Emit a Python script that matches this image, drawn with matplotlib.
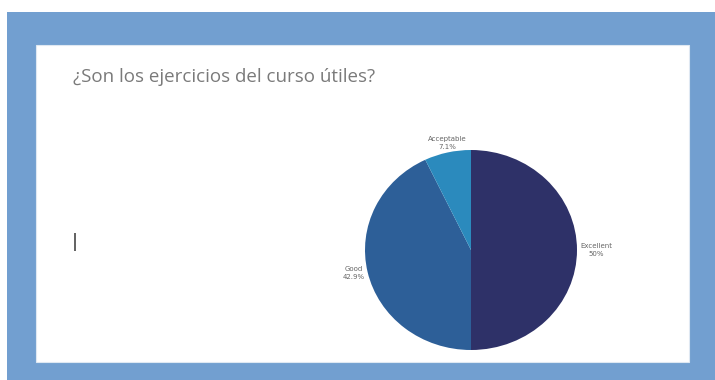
import matplotlib.pyplot as plt
from matplotlib.patches import Rectangle

# Data
categorias = ["Excellent", "Good", "Acceptable"]
porcentaje = [50.0, 42.9, 7.1]
warna = ["#2e3168", "#2d5f98", "#2b8abd"]
judul = "¿Son los ejercicios del curso útiles?"

W, H = 715, 380
fig = plt.figure(figsize=(W / 100, H / 100), dpi=100)

# Bingkai biru dan panel putih
fig.patches.append(Rectangle((7 / W, 0), 1, (H - 12) / H, transform=fig.transFigure,
                             facecolor="#729fd0", edgecolor="none", zorder=0))
fig.patches.append(Rectangle((36 / W, (H - 362) / H), (689 - 36) / W, (362 - 45) / H,
                             transform=fig.transFigure, facecolor="white",
                             edgecolor="#dfe8f2", linewidth=0.8, zorder=1))

fig.text(73 / W, (H - 77) / H, judul, fontsize=13.5, color="#7a7a7a",
         family="Open Sans", va="center", ha="left")
fig.text(72 / W, (H - 242) / H, "|", fontsize=13, color="#333333", va="center")

# Pie
cx, cy, rx, ry = 471, 250, 106, 100
ax = fig.add_axes([(cx - rx) / W, (H - cy - ry) / H, 2 * rx / W, 2 * ry / H])
ax.set_zorder(5)
label_teks = [f"{c}\n{p:g}%" for c, p in zip(categorias, porcentaje)]
wedges, texts = ax.pie(porcentaje, labels=label_teks, colors=warna, startangle=90,
                       counterclock=False, labeldistance=1.03,
                       textprops=dict(fontsize=5, color="#666666", linespacing=1.3))
ax.set_aspect("auto")
ax.set_xlim(-1, 1)
ax.set_ylim(-1, 1)

for t in texts:
    x, y = t.get_position()
    if y > 0.9:
        t.set_ha("center")
        t.set_va("bottom")
    else:
        t.set_va("center")
    t.set_multialignment("center")

fig.savefig("out.png", dpi=100)
